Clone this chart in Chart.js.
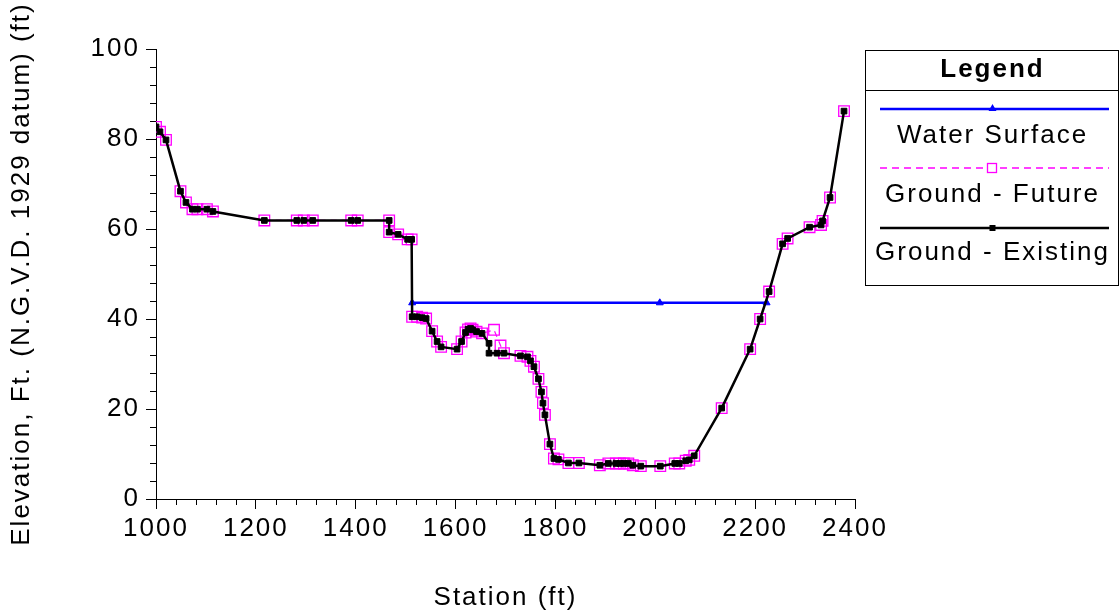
<!DOCTYPE html>
<html>
<head>
<meta charset="utf-8">
<script src="https://cdn.jsdelivr.net/npm/chart.js@4/dist/chart.umd.min.js"></script>
<style>
    html, body { margin: 0; padding: 0; background: #fff; }
    #wrap { width: 1120px; height: 614px; position: relative; }
</style>
</head>
<body>
<div id="wrap"><canvas id="xsChart"></canvas></div>
<script>
// values
const existingStation = [1000, 1008, 1020, 1049, 1060, 1073, 1083, 1102, 1114, 1217, 1282, 1296, 1314, 1391, 1404, 1467, 1467, 1485, 1504, 1512,
    1513, 1523, 1533, 1541, 1553, 1563, 1571, 1603, 1612, 1620, 1625, 1630, 1634, 1642, 1653, 1667, 1667, 1683, 1697,
    1730, 1744, 1750, 1757, 1766, 1772, 1775, 1779, 1789, 1797, 1806, 1826, 1847, 1889, 1906, 1921, 1929, 1937, 1946,
    1955, 1971, 2010, 2039, 2048, 2061, 2068, 2078, 2133, 2190, 2210, 2228, 2255, 2265, 2309, 2332, 2335, 2350, 2378];
const existingElev = [82.7, 81.6, 79.8, 68.4, 65.9, 64.4, 64.4, 64.4, 63.9, 61.9, 61.9, 61.9, 61.9, 61.9, 61.9, 61.9, 59.3, 58.8, 57.7, 57.7,
    40.5, 40.5, 40.3, 40.1, 37.3, 35.0, 33.8, 33.3, 35.0, 37.0, 37.7, 37.9, 37.6, 37.2, 36.8, 34.6, 32.4, 32.4, 32.4,
    31.8, 31.6, 30.7, 29.4, 26.7, 23.8, 21.3, 18.7, 12.2, 9.0, 8.8, 8.0, 8.0, 7.5, 7.9, 7.9, 7.9, 7.9, 7.9,
    7.5, 7.3, 7.3, 7.9, 7.9, 8.5, 8.7, 9.6, 20.2, 33.3, 40.0, 46.1, 56.7, 57.9, 60.4, 60.9, 61.8, 67.0, 86.2];

const futureStation = [1000, 1008, 1020, 1049, 1060, 1073, 1083, 1102, 1114, 1217, 1282, 1296, 1314, 1391, 1404, 1467, 1467, 1485, 1504, 1512,
    1513, 1523, 1533, 1541, 1553, 1563, 1571, 1603, 1612, 1620, 1625, 1630, 1634, 1642, 1653, 1677, 1690, 1697,
    1730, 1744, 1750, 1757, 1766, 1772, 1775, 1779, 1789, 1797, 1806, 1826, 1847, 1889, 1906, 1921, 1929, 1937, 1946,
    1955, 1971, 2010, 2039, 2048, 2061, 2068, 2078, 2133, 2190, 2210, 2228, 2255, 2265, 2309, 2332, 2335, 2350, 2378];
const futureElev = [82.7, 81.6, 79.8, 68.4, 65.9, 64.4, 64.4, 64.4, 63.9, 61.9, 61.9, 61.9, 61.9, 61.9, 61.9, 61.9, 59.3, 58.8, 57.7, 57.7,
    40.5, 40.5, 40.3, 40.1, 37.3, 35.0, 33.8, 33.3, 35.0, 37.0, 37.7, 37.9, 37.6, 37.2, 36.8, 37.6, 34.1, 32.4,
    31.8, 31.6, 30.7, 29.4, 26.7, 23.8, 21.3, 18.7, 12.2, 9.0, 8.8, 8.0, 8.0, 7.5, 7.9, 7.9, 7.9, 7.9, 7.9,
    7.5, 7.3, 7.3, 7.9, 7.9, 8.5, 8.7, 9.6, 20.2, 33.3, 40.0, 46.1, 56.7, 57.9, 60.4, 60.9, 61.8, 67.0, 86.2];

const waterStation = [1513, 2009, 2223];
const waterElev = [43.6, 43.6, 43.6];

const legendLabels = ["Water Surface", "Ground - Future", "Ground - Existing"];

const FONT = "'Liberation Sans', Arial, sans-serif";
const MAGENTA = "#ff00ff";

function pairs(xs, ys) {
    return xs.map((x, i) => ({ x, y: ys[i] }));
}

// GDI-ish wide text
const textSpacing = {
    id: "textSpacing",
    beforeDraw(chart) {
        chart.ctx.letterSpacing = "2px";
    },
};

// small ticks between the labelled ones
const minorTicks = {
    id: "minorTicks",
    afterDraw(chart) {
        const { ctx, scales: { x, y } } = chart;
        ctx.save();
        ctx.strokeStyle = "#000";
        ctx.lineWidth = 1;
        ctx.beginPath();
        for (let v = 0; v <= 100; v += 4) {
            if (v % 20 === 0) continue;
            const py = Math.round(y.getPixelForValue(v)) + 0.5;
            ctx.moveTo(x.left - 6, py);
            ctx.lineTo(x.left, py);
        }
        for (let v = 1000; v <= 2400; v += 40) {
            if (v % 200 === 0) continue;
            const px = Math.round(x.getPixelForValue(v)) + 0.5;
            ctx.moveTo(px, y.bottom);
            ctx.lineTo(px, y.bottom + 6);
        }
        ctx.stroke();
        ctx.restore();
    },
};

// boxed legend at the right, line sample above each label
const boxLegend = {
    id: "boxLegend",
    afterDraw(chart) {
        const ctx = chart.ctx;
        const left = 865, top = 50, w = 253, h = 235;
        const cx = left + w / 2 + 1;
        const x0 = 880, x1 = 1109;
        ctx.save();
        ctx.letterSpacing = "2px";
        ctx.strokeStyle = "#000";
        ctx.lineWidth = 1;
        ctx.strokeRect(left + 0.5, top + 0.5, w, h);
        ctx.beginPath();
        ctx.moveTo(left, 90.5);
        ctx.lineTo(left + w, 90.5);
        ctx.stroke();

        ctx.fillStyle = "#000";
        ctx.textAlign = "center";
        ctx.textBaseline = "middle";
        ctx.font = "bold 26px " + FONT;
        ctx.fillText("Legend", cx, 70);

        // water surface
        ctx.strokeStyle = "#0000ff";
        ctx.lineWidth = 2.5;
        ctx.beginPath();
        ctx.moveTo(x0, 109);
        ctx.lineTo(x1, 109);
        ctx.stroke();
        ctx.fillStyle = "#0000ff";
        ctx.beginPath();
        ctx.moveTo(cx - 4, 111);
        ctx.lineTo(cx + 4, 111);
        ctx.lineTo(cx, 104);
        ctx.closePath();
        ctx.fill();

        // future
        ctx.strokeStyle = MAGENTA;
        ctx.lineWidth = 1.5;
        ctx.setLineDash([7, 5]);
        ctx.beginPath();
        ctx.moveTo(x0, 168);
        ctx.lineTo(x1, 168);
        ctx.stroke();
        ctx.setLineDash([]);
        ctx.fillStyle = "#fff";
        ctx.fillRect(cx - 6, 163, 11, 10);
        ctx.lineWidth = 1.3;
        ctx.strokeRect(cx - 5, 163.5, 9, 9);

        // existing
        ctx.strokeStyle = "#000";
        ctx.lineWidth = 2.5;
        ctx.beginPath();
        ctx.moveTo(x0, 228);
        ctx.lineTo(x1, 228);
        ctx.stroke();
        ctx.fillStyle = "#000";
        ctx.fillRect(cx - 3, 225, 6, 6);

        ctx.font = "26px " + FONT;
        ctx.fillStyle = "#000";
        ctx.fillText(legendLabels[0], cx, 136);
        ctx.fillText(legendLabels[1], cx, 195);
        ctx.fillText(legendLabels[2], cx, 253);
        ctx.restore();
    },
};

const ctxEl = document.getElementById("xsChart");

new Chart(ctxEl, {
    type: "line",
    data: {
        datasets: [
            {
                label: legendLabels[2],
                data: pairs(existingStation, existingElev),
                borderColor: "#000",
                borderWidth: 2.5,
                pointStyle: "rect",
                pointRadius: 4,
                pointBackgroundColor: "#000",
                pointBorderColor: "#000",
                pointBorderWidth: 1,
                tension: 0,
                order: 0,
            },
            {
                label: legendLabels[1],
                data: pairs(futureStation, futureElev),
                borderColor: MAGENTA,
                borderWidth: 1.2,
                borderDash: [6, 5],
                pointStyle: "rect",
                pointRadius: 7.5,
                pointBackgroundColor: "rgba(255,255,255,0)",
                pointBorderColor: MAGENTA,
                pointBorderWidth: 1.3,
                tension: 0,
                order: 1,
            },
            {
                label: legendLabels[0],
                data: pairs(waterStation, waterElev),
                borderColor: "#0000ff",
                borderWidth: 2.5,
                pointStyle: "triangle",
                pointRadius: 4,
                pointBackgroundColor: "#0000ff",
                pointBorderColor: "#0000ff",
                pointBorderWidth: 1,
                tension: 0,
                order: 2,
            },
        ],
    },
    options: {
        responsive: true,
        maintainAspectRatio: false,
        devicePixelRatio: 1,
        animation: false,
        layout: { padding: { left: 0, top: 49, right: 265, bottom: 0 } },
        plugins: {
            legend: { display: false },
            tooltip: { enabled: false },
        },
        scales: {
            x: {
                type: "linear",
                min: 1000,
                max: 2400,
                afterFit: (scale) => { scale.height = 115; },
                ticks: {
                    stepSize: 200,
                    color: "#000",
                    padding: 4,
                    maxRotation: 0,
                    font: { family: FONT, size: 26 },
                    callback: (v) => String(v),
                },
                grid: { drawOnChartArea: false, drawTicks: true, tickLength: 10, color: "#000" },
                border: { display: true, color: "#000", width: 1 },
                title: {
                    display: true,
                    text: "Station (ft)",
                    color: "#000",
                    font: { family: FONT, size: 26 },
                    padding: { top: 0, bottom: 1 },
                },
            },
            y: {
                type: "linear",
                min: 0,
                max: 100,
                afterFit: (scale) => { scale.width = 156; },
                ticks: {
                    stepSize: 20,
                    color: "#000",
                    padding: 6,
                    font: { family: FONT, size: 26 },
                    callback: (v) => String(v),
                },
                grid: { drawOnChartArea: false, drawTicks: true, tickLength: 10, color: "#000" },
                border: { display: true, color: "#000", width: 1 },
                title: {
                    display: true,
                    text: "Elevation, Ft. (N.G.V.D. 1929 datum) (ft)",
                    color: "#000",
                    font: { family: FONT, size: 26 },
                    padding: { top: 6, bottom: 0 },
                },
            },
        },
    },
    plugins: [textSpacing, minorTicks, boxLegend],
});
</script>
</body>
</html>
